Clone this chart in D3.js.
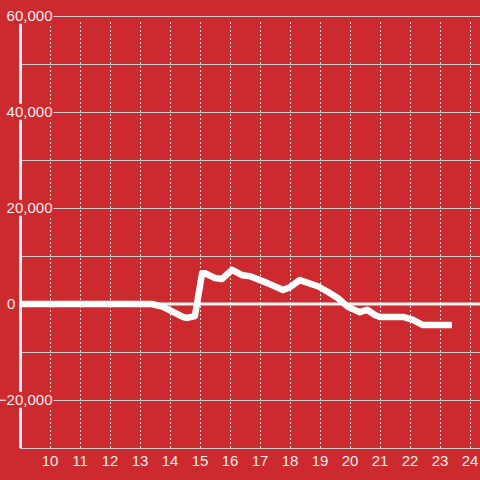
<!DOCTYPE html>
<html>
<head>
<meta charset="utf-8">
<script src="https://cdn.jsdelivr.net/npm/d3@7"></script>
<style>
  body { margin: 0; background: #cc2a2f; }
  text { font-family: "Liberation Sans", Arial, sans-serif; font-size: 15px; fill: #eee; }
</style>
</head>
<body>
<div id="chart"></div>
<script>
// hours of the day (decimal) and net values
const hours = [9.0, 13.4, 13.77, 14.43, 14.57, 14.83, 15.07, 15.17, 15.5, 15.73, 16.07, 16.4, 16.67,
  17.23, 17.77, 18.0, 18.33, 18.5, 18.93, 19.27, 19.6, 19.93, 20.33, 20.57, 20.83, 21.0, 21.77,
  22.1, 22.43, 23.4];
const values = [0, 0, -600, -2700, -2900, -2500, 6400, 6400, 5400, 5200, 7100, 6000, 5800,
  4400, 2900, 3500, 5000, 4600, 3700, 2500, 1200, -600, -1700, -1200, -2300, -2700, -2700,
  -3300, -4400, -4400];
const xTicks = [10, 11, 12, 13, 14, 15, 16, 17, 18, 19, 20, 21, 22, 23, 24];
const yGrid = [60000, 50000, 40000, 30000, 20000, 10000, 0, -10000, -20000, -30000];
const yLabels = [60000, 40000, 20000, 0, -20000];

const width = 480;
const height = 480;
const bg = "#cc2a2f";

const svg = d3.select("#chart").append("svg")
  .attr("width", width)
  .attr("height", height);

svg.append("rect").attr("width", width).attr("height", height).attr("fill", bg);

const x = d3.scaleLinear().domain([9, 24.333]).range([20, 480]);
const y = d3.scaleLinear().domain([-30000, 60000]).range([448, 16]);

// vertical dashed grid
svg.append("g")
  .selectAll("line")
  .data(xTicks)
  .enter()
  .append("line")
  .attr("x1", d => Math.round(x(d)) + 0.5)
  .attr("x2", d => Math.round(x(d)) + 0.5)
  .attr("y1", 22)
  .attr("y2", y(-30000))
  .attr("stroke", "#ddd")
  .attr("stroke-dasharray", "2,2");

// horizontal grid
svg.append("g")
  .selectAll("line")
  .data(yGrid.filter(d => d !== 0))
  .enter()
  .append("line")
  .attr("x1", 20)
  .attr("x2", width)
  .attr("y1", d => Math.round(y(d)) + 0.5)
  .attr("y2", d => Math.round(y(d)) + 0.5)
  .attr("stroke", "#ccc");

// y axis line
svg.append("line")
  .attr("x1", 20.5).attr("x2", 20.5)
  .attr("y1", y(60000)).attr("y2", y(-30000))
  .attr("stroke", "#eee")
  .attr("stroke-width", 3);

// zero line
svg.append("line")
  .attr("x1", 20).attr("x2", width)
  .attr("y1", y(0)).attr("y2", y(0))
  .attr("stroke", "#f4f4f4")
  .attr("stroke-width", 3);

// y labels with background
const fmt = d3.format(",");
const yLab = svg.append("g")
  .selectAll("g")
  .data(yLabels)
  .enter()
  .append("g");

yLab.append("rect")
  .attr("fill", bg);

yLab.append("text")
  .attr("x", d => (d === 0 ? 7 : 52.5))
  .attr("y", d => y(d))
  .attr("dy", "0.35em")
  .attr("text-anchor", d => (d === 0 ? "start" : "end"))
  .text(d => fmt(d));

yLab.each(function () {
  const g = d3.select(this);
  const b = g.select("text").node().getBBox();
  g.select("rect")
    .attr("x", b.x - 1)
    .attr("width", b.width + 2)
    .attr("y", b.y + b.height / 2 - 8)
    .attr("height", 16);
});

// x labels
svg.append("g")
  .selectAll("text")
  .data(xTicks)
  .enter()
  .append("text")
  .attr("x", d => x(d))
  .attr("y", 466)
  .attr("text-anchor", "middle")
  .text(d => d);

// data line
const line = d3.line()
  .x((d, i) => x(hours[i]))
  .y(d => y(d));

svg.append("path")
  .datum(values)
  .attr("d", line)
  .attr("fill", "none")
  .attr("stroke", "#fff")
  .attr("stroke-width", 6.5)
  .attr("stroke-linejoin", "round");
</script>
</body>
</html>
